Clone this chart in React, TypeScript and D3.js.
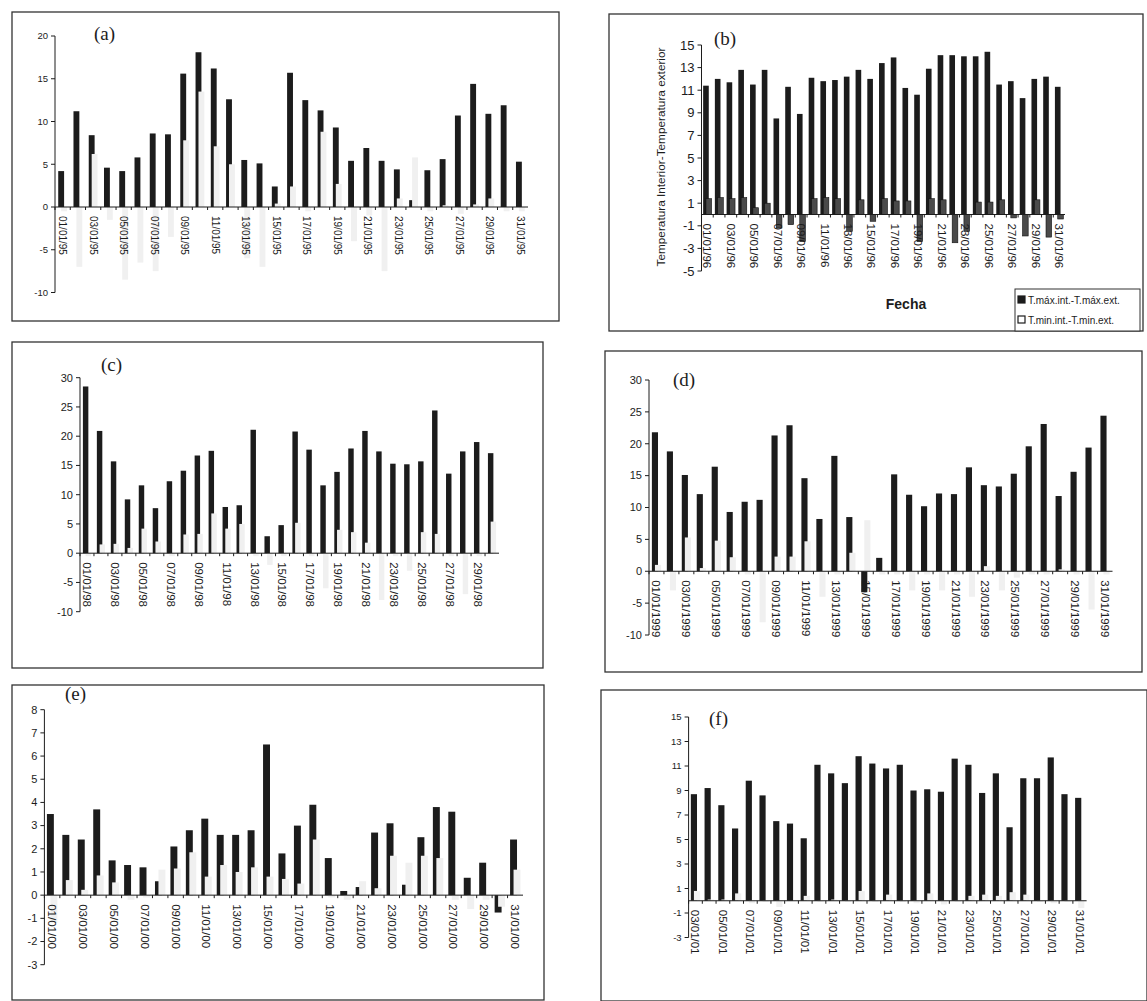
import * as d3 from "d3";

// day labels dd/01/yy for a range of days
const days = (first: number, last: number, yy: string) =>
  d3.range(first, last + 1).map((d) => `${String(d).padStart(2, "0")}/01/${yy}`);

const catsA = days(1, 31, "95");
const catsB = days(1, 31, "96");
const catsC = days(1, 30, "98");
const catsD = days(1, 31, "1999");
const catsE = days(1, 31, "00");
const catsF = days(3, 31, "01");

// T.max int - T.max ext
const maxA = [4.2, 11.2, 8.4, 4.6, 4.2, 5.8, 8.6, 8.5, 15.6, 18.1, 16.2, 12.6, 5.5, 5.1, 2.4, 15.7, 12.5, 11.3, 9.3, 5.4, 6.9, 5.4, 4.4, 0.8, 4.3, 5.6, 10.7, 14.4, 10.9, 11.9, 5.3];
const maxB = [11.4, 12.0, 11.7, 12.8, 11.5, 12.8, 8.5, 11.3, 8.9, 12.1, 11.8, 11.9, 12.2, 12.8, 12.0, 13.4, 13.9, 11.2, 10.6, 12.9, 14.1, 14.1, 14.0, 14.0, 14.4, 11.5, 11.8, 10.3, 12.0, 12.2, 11.3];
const maxC = [28.5, 20.9, 15.7, 9.2, 11.6, 7.7, 12.3, 14.1, 16.7, 17.5, 7.9, 8.2, 21.1, 2.9, 4.8, 20.8, 17.7, 11.6, 13.9, 17.9, 20.9, 17.4, 15.3, 15.2, 15.7, 24.4, 13.6, 17.4, 19.0, 17.1];
const maxD = [21.8, 18.8, 15.1, 12.1, 16.4, 9.3, 10.9, 11.2, 21.3, 22.9, 14.6, 8.2, 18.1, 8.5, -3.3, 2.1, 15.2, 12.0, 10.2, 12.2, 12.1, 16.3, 13.5, 13.3, 15.3, 19.6, 23.1, 11.8, 15.6, 19.4, 24.4];
const maxE = [3.5, 2.6, 2.4, 3.7, 1.5, 1.3, 1.2, 0.6, 2.1, 2.8, 3.3, 2.6, 2.6, 2.8, 6.5, 1.8, 3.0, 3.9, 1.6, 0.18, 0.35, 2.7, 3.1, 0.45, 2.5, 3.8, 3.6, 0.75, 1.4, -0.75, 2.4];
const maxF = [8.7, 9.2, 7.8, 5.9, 9.8, 8.6, 6.5, 6.3, 5.1, 11.1, 10.4, 9.6, 11.8, 11.2, 10.8, 11.1, 9.0, 9.1, 8.9, 11.6, 11.1, 8.8, 10.4, 6.0, 10.0, 10.0, 11.7, 8.7, 8.4];

// T.min int - T.min ext
const minA = [-0.5, -7.0, 6.2, -1.5, -8.5, -6.5, -7.5, -3.5, 7.8, 13.5, 7.1, 5.0, -6.0, -7.0, 0.4, 2.4, -0.5, 8.8, 2.7, -4.0, -1.0, -7.5, 1.0, 5.8, -0.5, 0.2, -0.8, 0.3, 1.0, -0.5, -0.5];
const minB = [1.4, 1.5, 1.4, 1.5, 0.6, 1.0, -1.2, -0.9, -2.4, 1.4, 1.5, 1.4, -1.5, 1.3, -0.6, 1.4, 1.2, 1.2, -2.4, 1.4, 1.3, -2.5, -1.5, 1.1, 1.1, 1.3, -0.3, -1.9, 1.3, -2.0, -0.4];
const minC = [-0.5, 1.5, 1.6, 0.9, 4.2, 2.0, -0.5, 3.2, 3.3, 6.8, 4.2, 5.0, -0.5, -2.0, -0.5, 5.2, -0.5, -6.0, 4.0, 3.6, 1.8, -8.0, -0.5, -3.0, 3.6, 3.3, -0.5, -7.0, -0.5, 5.4];
const minD = [1.0, -3.0, 5.3, 0.5, 4.8, 2.2, -0.5, -8.0, 2.3, 2.3, 4.7, -4.0, -0.5, 2.9, 8.0, -0.5, -0.5, -3.0, -0.5, -3.0, -0.5, -4.0, 0.8, -3.0, -1.0, -0.5, -0.5, 0.3, -0.5, -6.0, -0.5];
const minE = [-1.2, 0.65, 0.23, 0.85, 0.55, -0.2, -0.1, 1.1, 1.15, 1.85, 0.8, 1.3, 1.0, 1.2, 0.8, 0.7, 0.5, 2.4, -0.1, -0.2, 0.6, 0.3, 1.7, 1.4, 1.7, 1.6, -0.2, -0.6, -0.2, -0.5, 1.1];
const minF = [0.8, 0.1, 0.1, 0.6, -0.2, -0.1, -0.5, 0.0, 0.4, -0.1, 0.1, -0.1, 0.8, -0.1, 0.5, -0.1, -0.2, 0.6, -0.3, -0.1, 0.4, 0.5, 0.4, 0.7, 0.5, -0.1, -0.2, -0.1, -0.6];

const legendLabels = ["T.máx.int.-T.máx.ext.", "T.min.int.-T.min.ext."];

const panels = [
  {tag: "(a)", frame: [12, 12, 559, 321], x: [55, 528], y: [36, 292.5], dom: [20, -10], step: 5, cats: catsA, max: maxA, min: minA, bw: 0.385, tf: 9.5, df: 10, lab: [94, 40]},
  {tag: "(b)", frame: [609, 14, 1143, 331], x: [701.5, 1065], y: [45, 271], dom: [15, -5], step: 2, cats: catsB, max: maxB, min: minB, bw: 0.48, tf: 13, df: 11.5, lab: [714, 45], big: true},
  {tag: "(c)", frame: [12, 342, 543, 668], x: [80, 499], y: [377.7, 611.7], dom: [30, -10], step: 5, cats: catsC, max: maxC, min: minC, bw: 0.39, tf: 11, df: 11.5, lab: [101, 371]},
  {tag: "(d)", frame: [605, 351, 1142, 672], x: [649, 1112.5], y: [380, 635], dom: [30, -10], step: 5, cats: catsD, max: maxD, min: minD, bw: 0.41, tf: 11, df: 11.4, lab: [673, 386]},
  {tag: "(e)", frame: [12, 685, 544, 1000], x: [44.4, 523], y: [709.7, 964.7], dom: [8, -3], step: 1, cats: catsE, max: maxE, min: minE, bw: 0.45, tf: 11, df: 11.5, lab: [65, 700]},
  {tag: "(f)", frame: [601, 690, 1147, 1001], x: [688.6, 1086.6], y: [717, 937.5], dom: [15, -3], step: 2, cats: catsF, max: maxF, min: minF, bw: 0.45, tf: 9.5, df: 11.5, lab: [709, 725]},
];

const INK = "#1c1c1c";

function Panel({p}: {p: any}) {
  const x = d3.scaleBand<string>().domain(p.cats).range(p.x);
  const y = d3.scaleLinear().domain(p.dom).range(p.y);
  const w = x.bandwidth() * p.bw;
  const y0 = y(0);
  const ticks = d3.range(p.dom[1], p.dom[0] + 0.001, p.step);
  const [fx0, fy0, fx1, fy1] = p.frame;
  const minFill = p.big ? "#4a4a4a" : "#f0f0f0";
  const gx = (c: string) => (x(c) as number) + (x.bandwidth() - 1.5 * w) / 2;

  return (
    <g fontFamily="Liberation Sans, Arial, sans-serif" fill={INK}>
      <rect x={fx0} y={fy0} width={fx1 - fx0} height={fy1 - fy0} fill="none" stroke="#333" strokeWidth={1.3} />
      <text x={p.lab[0]} y={p.lab[1]} fontFamily="Liberation Serif, Times New Roman, serif" fontSize={19}>{p.tag}</text>

      {/* y axis */}
      <line x1={p.x[0]} x2={p.x[0]} y1={y(p.dom[0])} y2={y(p.dom[1])} stroke={INK} strokeWidth={1} />
      {ticks.map((t) => (
        <g key={t}>
          <line x1={p.x[0] - 4} x2={p.x[0]} y1={y(t)} y2={y(t)} stroke={INK} />
          <text x={p.x[0] - 7} y={y(t)} dy="0.35em" textAnchor="end" fontSize={p.tf}>{t}</text>
        </g>
      ))}

      {/* bars: max series, then min series overlapping half */}
      {p.cats.map((c: string, i: number) => {
        const v = p.max[i];
        return <rect key={"M" + c} x={gx(c)} y={Math.min(y(v), y0)} width={w} height={Math.abs(y(v) - y0)} fill={INK} />;
      })}
      {p.cats.map((c: string, i: number) => {
        const v = p.min[i];
        return (
          <rect key={"m" + c} x={gx(c) + w * 0.5} y={Math.min(y(v), y0)} width={w} height={Math.abs(y(v) - y0)}
            fill={minFill} stroke={p.big ? "#111" : "none"} strokeWidth={0.6} />
        );
      })}

      {/* x axis */}
      <line x1={p.x[0]} x2={p.x[1]} y1={y0} y2={y0} stroke={INK} strokeWidth={1} />
      {p.cats.map((c: string) => (
        <line key={"t" + c} x1={x(c)} x2={x(c)} y1={y0} y2={y0 + 3} stroke={INK} />
      ))}
      {p.cats.map((c: string, i: number) =>
        i % 2 === 0 ? (
          <text key={"l" + c} transform={`translate(${(x(c) as number) + x.bandwidth() / 2},${y0 + 9}) rotate(90)`}
            dy="0.35em" fontSize={p.df}>{c}</text>
        ) : null
      )}

      {p.big && (
        <g>
          <text transform="translate(665,157) rotate(-90)" textAnchor="middle" fontSize={11.8}>Temperatura Interior-Temperatura exterior</text>
          <text x={906} y={309} textAnchor="middle" fontSize={14} fontWeight="bold">Fecha</text>
          <rect x={1015} y={289} width={125} height={42} fill="white" stroke="#333" />
          {legendLabels.map((l, i) => (
            <g key={l}>
              <rect x={1018} y={296 + i * 20} width={7} height={7} fill={i === 0 ? INK : "white"} stroke={INK} strokeWidth={1.2} />
              <text x={1028} y={300 + i * 20} dy="0.35em" fontSize={10}>{l}</text>
            </g>
          ))}
        </g>
      )}
    </g>
  );
}

export default function App() {
  return (
    <svg width={1147} height={1001} style={{position: "absolute", left: 0, top: 0, background: "white"}}>
      <rect width={1147} height={1001} fill="white" />
      {panels.map((p) => <Panel key={p.tag} p={p} />)}
    </svg>
  );
}
